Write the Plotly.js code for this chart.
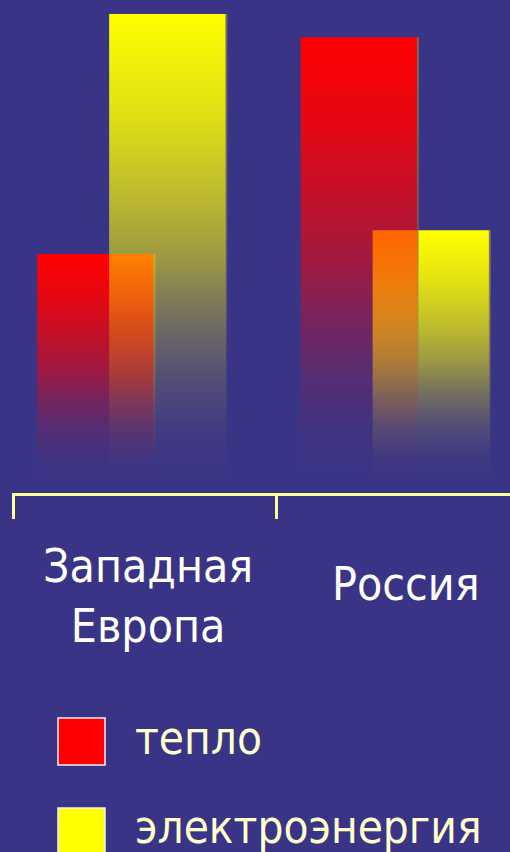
<!DOCTYPE html>
<html>
<head>
<meta charset="utf-8">
<script src="https://cdn.plot.ly/plotly-3.0.1.min.js"></script>
<style>
  html, body { margin: 0; padding: 0; background: #3a3486; }
  #chart { width: 510px; height: 852px; }
</style>
</head>
<body>
<div id="chart"></div>
<script>
// Categories and series
const categoryLabels = ['Западная<br>Европа', 'Россия'];
const seriesNames = ['тепло', 'электроэнергия'];
const heat = [48.5, 95];
const electricity = [100, 53.6];

// Styling
const BG = '#3a3486';
const seriesColors = ['255,0,0', '255,255,0'];
const edgeColor = '122,116,84';         // thin shaded strip along each bar's right side
const barWidth = 0.444;
const edgeWidth = 0.008;
const barLeft = [-0.41, -0.137];        // left edge of each series' bar, relative to the category centre
const drawOrder = [[0, 1], [1, 0]];     // series drawn last sits in front in the overlap
const FONT = 'DejaVu Sans Condensed, DejaVu Sans, sans-serif';
const FS = 46;

// Alpha ramp from the bar foot (0) to its top (1)
const alphaRamp = [[0, 0], [0.1, 0.03], [0.22, 0.13], [0.34, 0.28], [0.48, 0.5], [0.6, 0.65], [0.8, 0.86], [1, 1]];

function ramp(rgb, k) {
  return alphaRamp.map(function (s) {
    return [s[0], 'rgba(' + rgb + ',' + (s[1] * k).toFixed(3) + ')'];
  });
}

function gradientBox(x0, x1, v, rgb, k) {
  return {
    type: 'scatter',
    mode: 'lines',
    x: [x0, x0, x1, x1, x0],
    y: [0, v, v, 0, 0],
    fill: 'toself',
    line: { width: 0 },
    fillgradient: { type: 'vertical', start: 0, stop: v, colorscale: ramp(rgb, k) },
    hoverinfo: 'skip',
    showlegend: false,
    xaxis: 'x',
    yaxis: 'y'
  };
}

const seriesValues = [heat, electricity];
const traces = [];

categoryLabels.forEach(function (_, ci) {
  drawOrder[ci].forEach(function (si) {
    const v = seriesValues[si][ci];
    const x0 = ci + barLeft[si];
    const x1 = x0 + barWidth;
    traces.push(gradientBox(x0, x1, v, seriesColors[si], 1));
    traces.push(gradientBox(x1 - edgeWidth * 0.4, x1 + edgeWidth * 0.6, v, edgeColor, 0.85));
  });
});

// Legend swatches, in a pixel-space overlay
traces.push({
  type: 'scatter',
  mode: 'markers',
  x: seriesNames.map(function () { return 81.5; }),
  y: seriesNames.map(function (_, i) { return 741.5 + i * 90; }),
  marker: {
    symbol: 'square',
    size: 47,
    color: seriesColors.map(function (c) { return 'rgb(' + c + ')'; }),
    line: { color: '#f4f0f8', width: 1.5 }
  },
  hoverinfo: 'skip',
  showlegend: false,
  cliponaxis: false,
  xaxis: 'x2',
  yaxis: 'y2'
});

const annotations = [];
categoryLabels.forEach(function (t, ci) {
  annotations.push({
    xref: 'x', yref: 'y2',
    x: ci + (ci === 0 ? 0.012 : -0.012),
    y: ci === 0 ? 596 : 584,
    text: t,
    showarrow: false,
    xanchor: 'center', yanchor: 'middle',
    font: { family: FONT, size: FS, color: '#ffffff' }
  });
});
seriesNames.forEach(function (n, i) {
  annotations.push({
    xref: 'x2', yref: 'y2',
    x: 133, y: 738 + i * 89,
    text: n,
    showarrow: false,
    xanchor: 'left', yanchor: 'middle',
    font: { family: FONT, size: FS - 0.5, color: '#ffffcc' }
  });
});

const layout = {
  width: 510,
  height: 852,
  margin: { l: 0, r: 0, t: 0, b: 0 },
  paper_bgcolor: BG,
  plot_bgcolor: 'rgba(0,0,0,0)',
  showlegend: false,
  xaxis: {
    domain: [12 / 510, 1],
    range: [-0.5057, 1.3843],
    showgrid: false,
    zeroline: false,
    showline: true,
    linecolor: '#ffff99',
    linewidth: 3,
    ticks: 'outside',
    tickvals: [-0.5, 0.5, 1.5],
    ticklen: 23,
    tickwidth: 3,
    tickcolor: '#ffff99',
    showticklabels: false,
    fixedrange: true,
    anchor: 'y'
  },
  yaxis: {
    domain: [1 - 493 / 852, 1],
    range: [-2.79, 103.0],
    visible: false,
    fixedrange: true,
    anchor: 'x'
  },
  xaxis2: {
    domain: [0, 1], range: [0, 510], visible: false, fixedrange: true, anchor: 'y2'
  },
  yaxis2: {
    domain: [0, 1], range: [852, 0], visible: false, fixedrange: true, anchor: 'x2'
  },
  annotations: annotations
};

Plotly.newPlot('chart', traces, layout, { staticPlot: true, displayModeBar: false });
</script>
</body>
</html>
